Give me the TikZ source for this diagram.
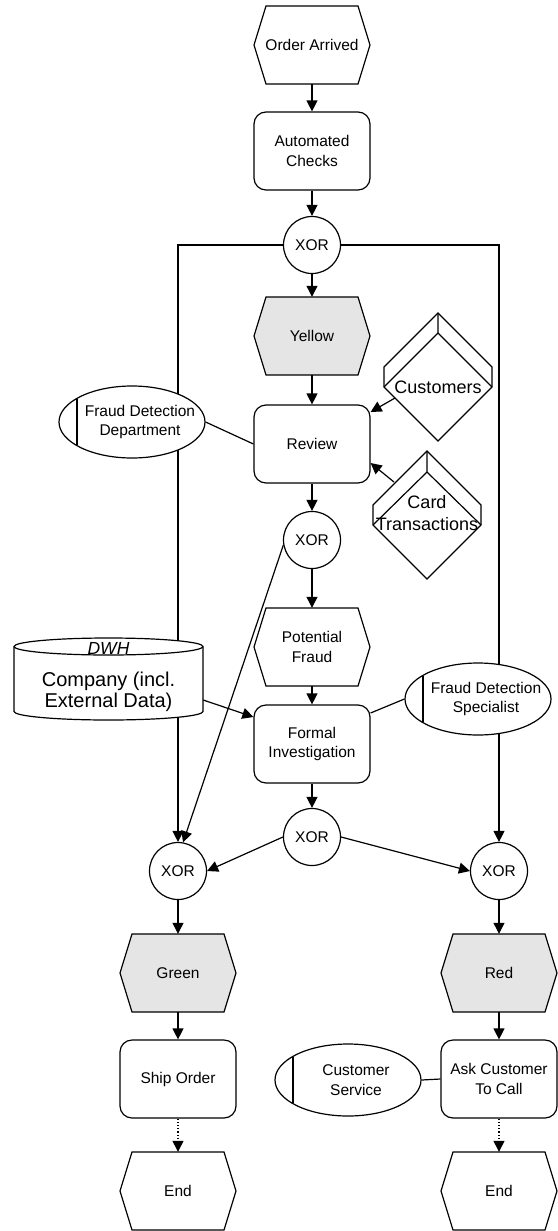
\documentclass[tikz,border=0pt]{standalone}
\usepackage{fontspec}
\setmainfont{Liberation Sans}
\usetikzlibrary{arrows.meta,shapes.geometric}

\tikzset{
  every node/.style={font=\fontsize{15.5pt}{19.5pt}\selectfont, text=black},
  lin/.style={line width=1.2pt, draw=black},
  arr/.style={lin, -{Triangle[length=11pt,width=11pt]}},
  dotarr/.style={arr, dotted},
  fnbox/.style={lin, rectangle, rounded corners=12pt, fill=white,
    minimum width=116pt, minimum height=78pt, align=center, inner sep=2pt},
  evtext/.style={rectangle, minimum width=116pt, minimum height=78pt,
    align=center, inner sep=0pt},
  xor/.style={lin, circle, fill=white, minimum size=57pt, inner sep=0pt},
  org/.style={lin, ellipse, fill=white, minimum width=146pt,
    minimum height=72pt, inner sep=0pt},
  bigtext/.style={font=\fontsize{18pt}{22.5pt}\selectfont, align=center},
  evgray/.style={fill=black!10},
  evwhite/.style={fill=white},
}

% event: hexagon drawn first, text node on top
\newcommand\evhex[4]{%
  \draw[lin, #3, shift={(#2)}] (-58,0) -- (-46,-39) -- (46,-39) -- (58,0)
    -- (46,39) -- (-46,39) -- cycle;
  \node[evtext] (#1) at (#2) {#4};
}
% organisational unit: ellipse with a vertical bar on the left
\newcommand\orgunit[3]{%
  \node[org] (#1) at (#2) {};
  \draw[lin] ([xshift=-55pt,yshift=-23pt]#1.center) -- ([xshift=-55pt,yshift=23pt]#1.center);
  \node[align=center] (#1-t) at ([xshift=8pt]#1.center) {#3};
}

\begin{document}
\begin{tikzpicture}[x=1pt,y=-1pt]
\useasboundingbox (0,0) rectangle (557,1231);

% connectors nodes first
\node[xor] (xor1) at (312,245) {XOR};
\node[xor] (xorL) at (178,871) {XOR};
\node[xor] (xorR) at (499,871) {XOR};

% long side branches (behind the data stores and org units)
\draw[arr] (xor1.west) -| (xorL.north);
\draw[arr] (xor1.east) -| (xorR.north);

% main column
\evhex{oa}{312,45}{evwhite}{Order Arrived}
\node[fnbox] (auto) at (312,151) {Automated\\Checks};
\evhex{yellow}{312,336}{evgray}{Yellow}
\node[fnbox] (review) at (312,444) {Review};
\node[xor] (xor2) at (312,540) {XOR};
\evhex{pf}{312,647}{evwhite}{Potential\\Fraud}
\node[fnbox] (formal) at (312,744) {Formal\\Investigation};
\node[xor] (xorM) at (312,837) {XOR};

% left and right branches
\evhex{green}{178,973}{evgray}{Green}
\node[fnbox] (ship) at (178,1079) {Ship Order};
\evhex{end1}{178,1191}{evwhite}{End}
\evhex{red}{499,973}{evgray}{Red}
\node[fnbox] (ask) at (499,1079) {Ask Customer\\To Call};
\evhex{end2}{499,1191}{evwhite}{End}

% control flow
\draw[arr] (oa.south) -- (auto.north);
\draw[arr] (auto.south) -- (xor1.north);
\draw[arr] (xor1.south) -- (yellow.north);
\draw[arr] (yellow.south) -- (review.north);
\draw[arr] (review.south) -- (xor2.north);
\draw[arr] (xor2.south) -- (pf.north);
\draw[arr] (pf.south) -- (formal.north);
\draw[arr] (formal.south) -- (xorM.north);
\draw[arr] (xor2.190) -- (xorL.80);
\draw[arr] (xorM.west) -- (xorL.east);
\draw[arr] (xorM.east) -- (xorR.west);
\draw[arr] (xorL.south) -- (green.north);
\draw[arr] (xorR.south) -- (red.north);
\draw[arr] (green.south) -- (ship.north);
\draw[arr] (red.south) -- (ask.north);
\draw[dotarr] (ship.south) -- (end1.north);
\draw[dotarr] (ask.south) -- (end2.north);

% organisational units
\orgunit{fdd}{132,422}{Fraud Detection\\Department}
\orgunit{fds}{478,699}{Fraud Detection\\Specialist}
\orgunit{cs}{348,1080}{Customer\\Service}
\draw[lin] (fdd.east) -- (review.west);
\draw[lin] ([yshift=31pt]formal.east) -- (fds.west);
\draw[lin] (cs.east) -- (ask.west);

% information objects
\draw[lin, fill=white] (438,313) -- (384,367) -- (384,387) -- (438,441)
  -- (492,387) -- (492,367) -- cycle;
\draw[lin] (384,387) -- (438,333) -- (492,387) (438,313) -- (438,333);
\node[bigtext] (cust) at (438,387) {Customers};
\coordinate (custout) at (395,398);
\draw[arr] (custout) -- ([yshift=32pt]review.east);

\draw[lin, fill=white] (427,451) -- (373,505) -- (373,525) -- (427,579)
  -- (481,525) -- (481,505) -- cycle;
\draw[lin] (373,525) -- (427,472) -- (481,525) (427,451) -- (427,472);
\node[bigtext] (card) at (427,513) {Card\\Transactions};
\coordinate (cardout) at (394,482);
\draw[arr] (cardout) -- ([yshift=-19pt]review.east);

% data warehouse cylinder
\draw[lin, fill=white] (14,646.5) -- (14,711.5)
  arc[start angle=180, end angle=360, x radius=94.5pt, y radius=8.5pt]
  -- (203,646.5)
  arc[start angle=0, end angle=180, x radius=94.5pt, y radius=8.5pt] -- cycle;
\draw[lin] (14,646.5) arc[start angle=180, end angle=360, x radius=94.5pt, y radius=8.5pt];
\node[font=\fontsize{17.5pt}{21pt}\selectfont\itshape] (dwhtitle) at (108.5,648) {DWH};
\node[font=\fontsize{20pt}{21pt}\selectfont, align=center, minimum width=189pt,
  inner sep=0pt] (dwh) at (108.5,692) {Company (incl.\\External Data)};
\draw[arr] ([yshift=-8pt]dwh.east) -- ([yshift=27pt]formal.west);
\end{tikzpicture}
\end{document}
